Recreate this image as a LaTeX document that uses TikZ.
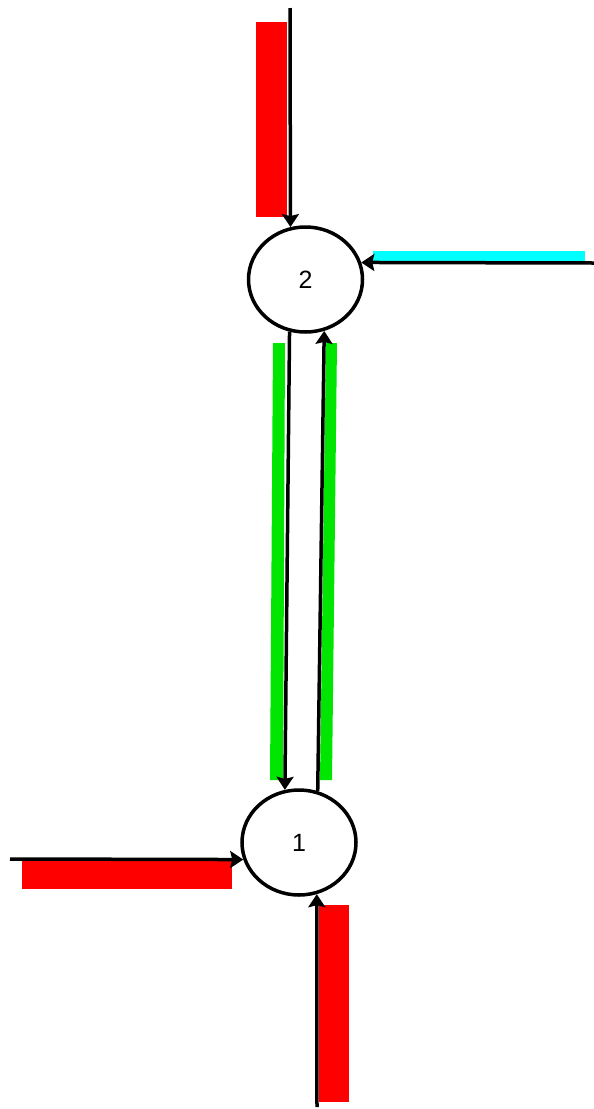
\documentclass[tikz,border=0pt]{standalone}
\usepackage{xcolor}
\usepackage{fontspec}
\setmainfont{Liberation Sans}
\usepackage{tikz}
\usetikzlibrary{arrows.meta,shapes.geometric}
\tikzset{>={Stealth[length=13pt,width=17pt,inset=2pt]}}
\definecolor{flowred}{RGB}{255,0,0}
\definecolor{flowgreen}{RGB}{0,230,0}
\definecolor{flowcyan}{RGB}{0,255,255}
\tikzset{
  bus/.style={draw, ellipse, line width=3.5pt, minimum width=114pt, minimum height=105pt,
    inner sep=0pt, font=\fontsize{25}{30}\selectfont},
  branch/.style={line width=3.5pt, ->}
}

\begin{document}
\begin{tikzpicture}[x=1pt, y=-1pt]
    \useasboundingbox (0,0) rectangle (594,1109);
    % flow bars
    \fill[color=flowred] (256,22) rectangle (287,217);
    \fill[color=flowcyan] (373,251) rectangle (585,262);
    \fill[color=flowred] (22,861) rectangle (232,889);
    \fill[color=flowred] (319,905) rectangle (349,1102);
    \fill[color=flowgreen] (273,343) -- (285,343) -- (283,780) -- (270,780) -- cycle;
    \fill[color=flowgreen] (326,343) -- (337,343) -- (332,780) -- (320,780) -- cycle;
    % buses
    \node[bus] (n2) at (305.5,279.5) {2};
    \node[bus] (n1) at (299,842.5) {1};
    \coordinate (topin) at (290,8);
    \coordinate (rightin) at (594,263);
    \coordinate (leftin) at (10,859);
    \coordinate (bottomin) at (317,1107);
    % lines
    \draw[branch] (topin) -- (n2.106);
    \draw[branch] (rightin) -- (n2.17);
    \draw[branch] (leftin) -- (n1.197);
    \draw[branch] (bottomin) -- (n1.-71);
    \draw[branch] (n2.-107) -- (n1.105);
    \draw[branch] (n1.70) -- (n2.-70);
\end{tikzpicture}
\end{document}
